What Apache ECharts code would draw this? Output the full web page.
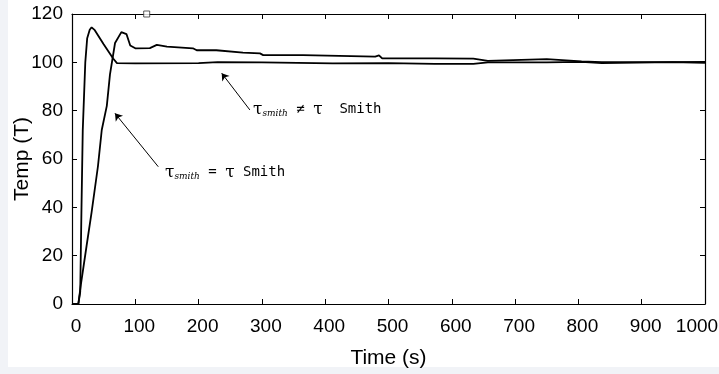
<!DOCTYPE html>
<html>
<head>
<meta charset="utf-8">
<script src="https://cdn.jsdelivr.net/npm/echarts@6/dist/echarts.min.js"></script>
<style>
html, body { margin: 0; padding: 0; background: #ffffff; }
#chart { width: 719px; height: 374px; }
</style>
</head>
<body>
<div id="chart"></div>
<script>
// tau_smith != tau : fast rise, settles at 100
const fastTime = [0, 10, 13, 15, 17, 21, 24, 28, 31, 36, 50, 65, 71, 100, 200, 230, 300, 412, 500, 573, 634, 657, 750, 805, 837, 949, 1000]
const fastTemp = [0, 0, 5, 40, 72, 100, 110, 113.5, 114.5, 113.3, 107.5, 101.6, 99.7, 99.6, 99.7, 100.1, 100, 99.6, 99.7, 99.4, 99.4, 100, 100, 100.2, 99.7, 100.1, 99.8]

// tau_smith = tau : slower rise, overshoot, slow decay to 100
const slowTime = [0, 10, 14, 23, 31, 41, 47, 55, 60, 68, 78, 86, 92, 100, 123, 134, 150, 191, 197, 228, 270, 297, 302, 365, 479, 485, 490, 573, 634, 657, 750, 805, 837, 949, 1000]
const slowTemp = [0, 0, 8, 24, 38, 57, 72, 82, 95, 108, 112.5, 111.7, 107, 105.8, 105.9, 107.2, 106.5, 105.8, 105, 105, 104, 103.7, 103, 103, 102.4, 102.9, 101.6, 101.6, 101.5, 100.6, 101.3, 100.4, 100.1, 100.1, 100.2]

const xTicks = [0, 1000, 100]
const yTicks = [0, 120, 20]

// annotation arrows: [tail, head] in data units
const arrowNe = [[281, 80.3], [236.5, 95.5]]
const arrowEq = [[136.3, 56.8], [67.9, 78.9]]
const topMarker = [[118, 120]]

const chart = echarts.init(document.getElementById('chart'))

const tickFont = {
  fontFamily: '"Liberation Sans", Arial, sans-serif',
  fontSize: 19,
  color: '#000'
}
const nameFont = Object.assign({}, tickFont, { fontSize: 21 })

function boxAxis (pos, range, showLabels, extra) {
  return Object.assign({
    type: 'value',
    position: pos,
    min: range[0],
    max: range[1],
    interval: range[2],
    axisLine: { show: true, onZero: false, lineStyle: { color: '#000', width: 1.2 } },
    axisTick: { show: true, inside: true, length: 5, lineStyle: { color: '#000', width: 1 } },
    axisLabel: Object.assign({ show: showLabels, formatter: v => String(v) }, tickFont),
    splitLine: { show: false }
  }, extra || {})
}

const annoRich = {
  t: { fontFamily: '"DejaVu Serif", serif', fontSize: 17, color: '#000' },
  s: { fontFamily: '"DejaVu Serif", serif', fontSize: 9, fontStyle: 'italic', color: '#000', padding: [9, 0, 0, 0] },
  n: { fontFamily: '"DejaVu Sans Mono", monospace', fontSize: 14, color: '#000' }
}

chart.setOption({
  backgroundColor: '#ffffff',
  animation: false,
  grid: { left: 72, right: 14, top: 14, bottom: 70, containLabel: false, outerBoundsMode: 'none' },
  xAxis: [
    boxAxis('bottom', xTicks, true, {
      name: 'Time (s)',
      nameLocation: 'middle',
      nameGap: 44,
      nameMoveOverlap: false,
      nameTextStyle: nameFont,
      axisLabel: Object.assign({
        show: true,
        margin: 13,
        padding: [0, 0, 0, 8],
        formatter: v => (v === 1000 ? '{m|1000}' : String(v)),
        rich: { m: Object.assign({}, tickFont, { padding: [0, 24, 0, 0] }) }
      }, tickFont)
    }),
    boxAxis('top', xTicks, false)
  ],
  yAxis: [
    boxAxis('left', yTicks, true, {
      name: 'Temp (T)',
      nameLocation: 'middle',
      nameGap: 39,
      nameMoveOverlap: false,
      nameTextStyle: nameFont,
      axisLabel: Object.assign({ show: true, margin: 9, formatter: v => String(v) }, tickFont)
    }),
    boxAxis('right', yTicks, false)
  ],
  series: [
    {
      name: 'tau_smith != tau',
      type: 'line',
      data: fastTime.map((t, i) => [t, fastTemp[i]]),
      showSymbol: false,
      lineStyle: { color: '#000', width: 1.8 },
      markLine: {
        silent: true,
        symbol: ['none', 'arrow'],
        symbolSize: 7,
        label: { show: false },
        lineStyle: { color: '#000', width: 1, type: 'solid' },
        data: [
          [{ coord: arrowNe[0] }, { coord: arrowNe[1] }],
          [{ coord: arrowEq[0] }, { coord: arrowEq[1] }]
        ]
      }
    },
    {
      name: 'tau_smith = tau',
      type: 'line',
      data: slowTime.map((t, i) => [t, slowTemp[i]]),
      showSymbol: false,
      lineStyle: { color: '#000', width: 1.8 }
    },
    {
      name: 'marker',
      type: 'scatter',
      data: topMarker,
      symbol: 'rect',
      symbolSize: 6,
      itemStyle: { color: '#fff', borderColor: '#333', borderWidth: 1 }
    }
  ],
  graphic: [
    { type: 'rect', left: 0, top: 0, z: -10, shape: { width: 8, height: 374 }, style: { fill: '#f1f3f7' } },
    { type: 'rect', left: 0, top: 367, z: -10, shape: { width: 719, height: 7 }, style: { fill: '#f1f3f7' } },
    {
      type: 'text',
      left: 253,
      top: 101,
      style: { text: '{t|τ}{s|smith}{n| ≠ }{t|τ}{n|  Smith}', rich: annoRich }
    },
    {
      type: 'text',
      left: 165,
      top: 164,
      style: { text: '{t|τ}{s|smith}{n| = }{t|τ}{n| Smith}', rich: annoRich }
    }
  ]
})
</script>
</body>
</html>
